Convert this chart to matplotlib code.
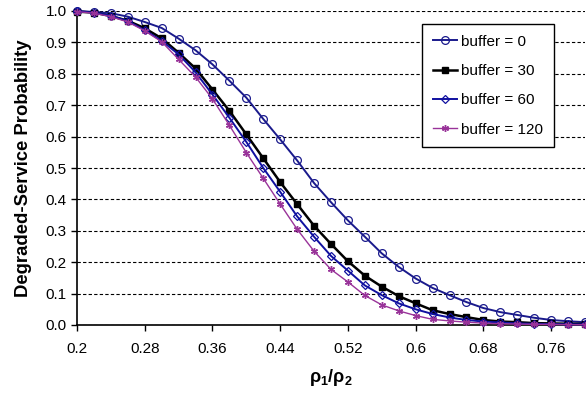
import matplotlib
matplotlib.use("Agg")
import matplotlib.pyplot as plt
import numpy as np

plt.rcParams['font.family'] = ['Liberation Sans', 'DejaVu Sans']
plt.rcParams['mathtext.fontset'] = 'custom'
plt.rcParams['mathtext.rm'] = 'Liberation Sans'
plt.rcParams['mathtext.bf'] = 'Liberation Sans:bold'
plt.rcParams['mathtext.it'] = 'Liberation Sans:italic'

rho_ratio = [round(0.2 + 0.02 * k, 2) for k in range(31)]

buffer_0 = [1.000, 0.997, 0.993, 0.982, 0.965, 0.946, 0.912, 0.875, 0.830, 0.778,
            0.724, 0.656, 0.591, 0.524, 0.452, 0.391, 0.333, 0.281, 0.228, 0.185,
            0.148, 0.118, 0.095, 0.073, 0.054, 0.041, 0.032, 0.023, 0.016, 0.012, 0.009]
buffer_30 = [0.998, 0.995, 0.984, 0.969, 0.945, 0.913, 0.867, 0.817, 0.750, 0.682,
             0.607, 0.531, 0.455, 0.385, 0.316, 0.258, 0.203, 0.157, 0.122, 0.092,
             0.069, 0.047, 0.035, 0.025, 0.016, 0.011, 0.009, 0.006, 0.005, 0.004, 0.004]
buffer_60 = [0.999, 0.995, 0.985, 0.968, 0.939, 0.905, 0.862, 0.805, 0.734, 0.660,
             0.583, 0.500, 0.424, 0.346, 0.281, 0.220, 0.173, 0.126, 0.095, 0.069,
             0.050, 0.035, 0.024, 0.016, 0.011, 0.008, 0.005, 0.004, 0.003, 0.002, 0.002]
buffer_120 = [0.998, 0.993, 0.982, 0.965, 0.937, 0.902, 0.846, 0.790, 0.720, 0.636,
              0.549, 0.467, 0.385, 0.305, 0.235, 0.177, 0.137, 0.094, 0.064, 0.045,
              0.030, 0.018, 0.013, 0.009, 0.006, 0.004, 0.003, 0.002, 0.002, 0.001, 0.001]

series_labels = ['buffer = 0', 'buffer = 30', 'buffer = 60', 'buffer = 120']
x_ticks = [0.2, 0.28, 0.36, 0.44, 0.52, 0.6, 0.68, 0.76]
x_tick_labels = ['0.2', '0.28', '0.36', '0.44', '0.52', '0.6', '0.68', '0.76']
y_ticks = [0.0, 0.1, 0.2, 0.3, 0.4, 0.5, 0.6, 0.7, 0.8, 0.9, 1.0]

W, H = 586, 397
fig = plt.figure(figsize=(W / 100, H / 100), dpi=100)
ax = fig.add_axes([77 / W, (H - 325) / H, (585 - 77) / W, (325 - 11) / H])

navy = '#1a1a8c'
ax.plot(rho_ratio, buffer_0, color=navy, lw=1.4, marker='o', ms=5.6,
        mfc='none', mec=navy, mew=0.9, label=series_labels[0], clip_on=False, zorder=3)
ax.plot(rho_ratio, buffer_30, color='black', lw=1.8, marker='s', ms=5,
        mfc='black', mec='black', label=series_labels[1], clip_on=False, zorder=3)
ax.plot(rho_ratio, buffer_60, color='#1010a0', lw=1.4, marker='D', ms=4,
        mfc='none', mec='#1010a0', mew=0.9, label=series_labels[2], clip_on=False, zorder=3)
ax.plot(rho_ratio, buffer_120, color='#993399', lw=1.0, marker=(6, 2, 0), ms=5,
        mec='#993399', mew=1.0, label=series_labels[3], clip_on=False, zorder=3)

ax.set_xlim(0.2, 0.8)
ax.set_ylim(0.0, 1.0)
ax.set_xticks(x_ticks)
ax.set_xticklabels(x_tick_labels)
ax.set_yticks(y_ticks)
ax.set_yticklabels([f'{v:.1f}' for v in y_ticks])
ax.tick_params(axis='both', direction='out', length=4, width=1, labelsize=11, colors='black')
ax.tick_params(axis='x', pad=8)

ax.yaxis.grid(True, linestyle=(0, (3, 2)), color='black', linewidth=0.8)
ax.set_axisbelow(True)
for s in ['top', 'right']:
    ax.spines[s].set_visible(False)
for s in ['left', 'bottom']:
    ax.spines[s].set_linewidth(1.2)
    ax.spines[s].set_color('black')

ax.set_ylabel('Degraded-Service Probability', fontsize=13.3, fontweight='bold', labelpad=10)
ax.set_xlabel(r'$\mathbf{\rho_1/\rho_2}$', fontsize=13, labelpad=8)

leg = ax.legend(loc='upper left', bbox_to_anchor=((422 - 77) / 508, (325 - 24) / 314),
                borderaxespad=0, fancybox=False, framealpha=1, edgecolor='black',
                fontsize=11, labelspacing=1.0, handlelength=1.6, handletextpad=0.25,
                borderpad=0.7)
leg.get_frame().set_linewidth(1.0)

fig.savefig('out.png', dpi=100)
